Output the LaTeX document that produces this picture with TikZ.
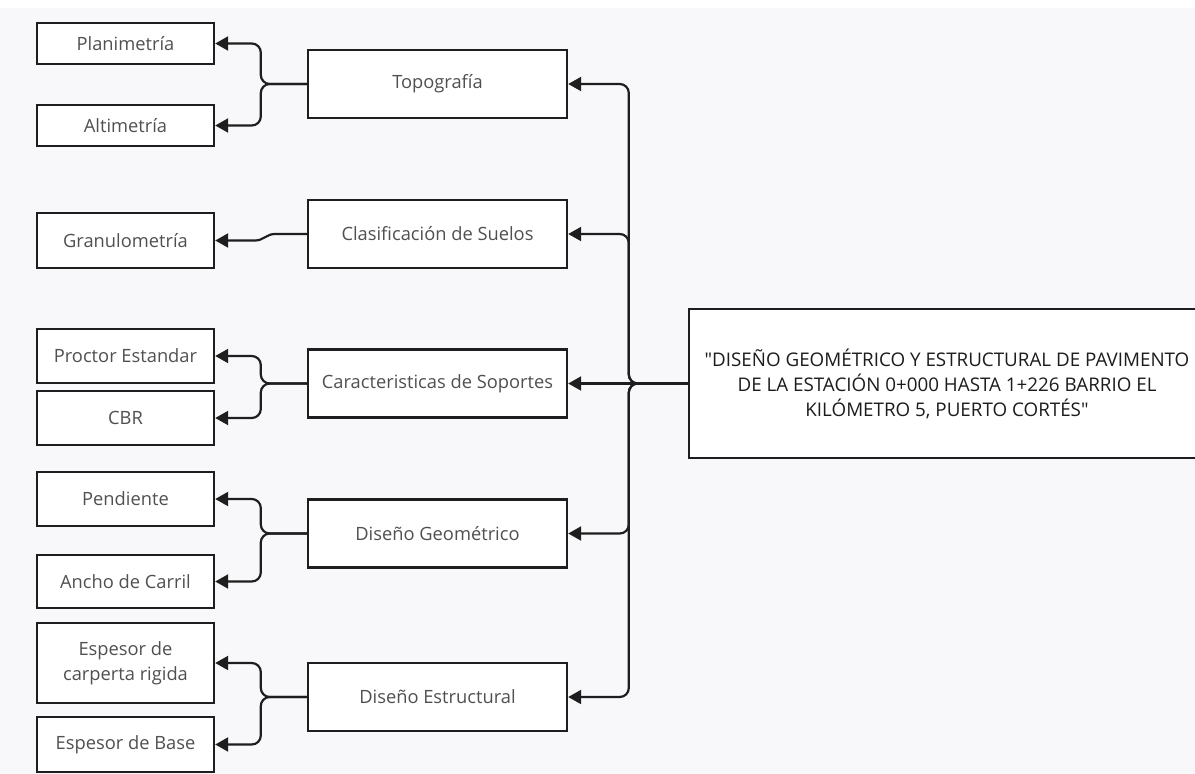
\documentclass[tikz,border=0pt]{standalone}
\usepackage{fontspec}
\setmainfont{Open Sans}
\usetikzlibrary{arrows.meta}
\definecolor{bgcol}{RGB}{248,248,250}
\definecolor{boxtext}{RGB}{80,80,80}
\definecolor{maintext}{RGB}{28,28,28}
\definecolor{linecol}{RGB}{30,30,30}
\begin{document}
\begin{tikzpicture}[x=1pt,y=-1pt]

\tikzset{box/.style = {shape=rectangle,draw=linecol,fill=white,line width=2.4pt,inner sep=0pt,
  text=boxtext,font=\fontsize{18.3}{25}\selectfont,align=center}}
\tikzset{leaf/.style = {box,minimum width=177pt,minimum height=52pt}}
\tikzset{mid/.style = {box,minimum width=259pt,minimum height=68pt}}
\tikzset{link/.style = {draw=linecol,line width=2.2pt,rounded corners=9pt,-{Triangle[length=13pt,width=14pt]}}}
% background
\useasboundingbox (0,0) rectangle (1195,774);
\fill[bgcol] (0,0) rectangle (1195,774);
\fill[white] (0,0) rectangle (1195,8);
% vertices
\node[box, minimum width=516pt, minimum height=149pt, text=maintext, font=\fontsize{18.8}{25}\selectfont] (main) at (947,383.5)
  {\textquotedbl DISEÑO GEOMÉTRICO Y ESTRUCTURAL DE PAVIMENTO\\DE LA ESTACIÓN 0+000 HASTA 1+226 BARRIO EL\\KILÓMETRO 5, PUERTO CORTÉS\textquotedbl};
\node[mid] (topo) at (437.5,84) {Topografía};
\node[mid] (clas) at (437.5,234) {Clasificación de Suelos};
\node[mid] (cara) at (437.5,383.5) {Caracteristicas de Soportes};
\node[mid] (geom) at (437.5,533.5) {Diseño Geométrico};
\node[mid] (estr) at (437.5,697) {Diseño Estructural};
\node[leaf, minimum height=41pt] (plan) at (125.5,43.5) {Planimetría};
\node[leaf, minimum height=41pt] (alti) at (125.5,125.5) {Altimetría};
\node[leaf, minimum height=55pt] (granu) at (125.5,240.5) {Granulometría};
\node[leaf, minimum height=54pt] (proc) at (125.5,356) {Proctor Estandar};
\node[leaf, minimum height=54pt] (cbr) at (125.5,418) {CBR};
\node[leaf, minimum height=54pt] (pend) at (125.5,499) {Pendiente};
\node[leaf, minimum height=53pt] (ancho) at (125.5,581.5) {Ancho de Carril};
\node[leaf, minimum height=80pt] (carp) at (125.5,663) {Espesor de\\carperta rigida};
\node[leaf, minimum height=55pt] (base) at (125.5,744.5) {Espesor de Base};
\coordinate (gbend) at ([xshift=40pt]granu.east);
%edges
\draw[link] (main.west) -- ++(-59,0) |- (topo.east);
\draw[link] (main.west) -- ++(-59,0) |- (clas.east);
\draw[link] (main.west) -- (cara.east);
\draw[link] (main.west) -- ++(-59,0) |- (geom.east);
\draw[link] (main.west) -- ++(-59,0) |- (estr.east);
\draw[link] (topo.west) -- ++(-46,0) |- (plan.east);
\draw[link] (topo.west) -- ++(-46,0) |- (alti.east);
\draw[link, rounded corners=0pt] (clas.west) -- ++(-32,0) to[out=180,in=0] (gbend) -- (granu.east);
\draw[link] (cara.west) -- ++(-46,0) |- (proc.east);
\draw[link] (cara.west) -- ++(-46,0) |- (cbr.east);
\draw[link] (geom.west) -- ++(-46,0) |- (pend.east);
\draw[link] (geom.west) -- ++(-46,0) |- (ancho.east);
\draw[link] (estr.west) -- ++(-46,0) |- (carp.east);
\draw[link] (estr.west) -- ++(-46,0) |- (base.east);
\end{tikzpicture}
\end{document}
